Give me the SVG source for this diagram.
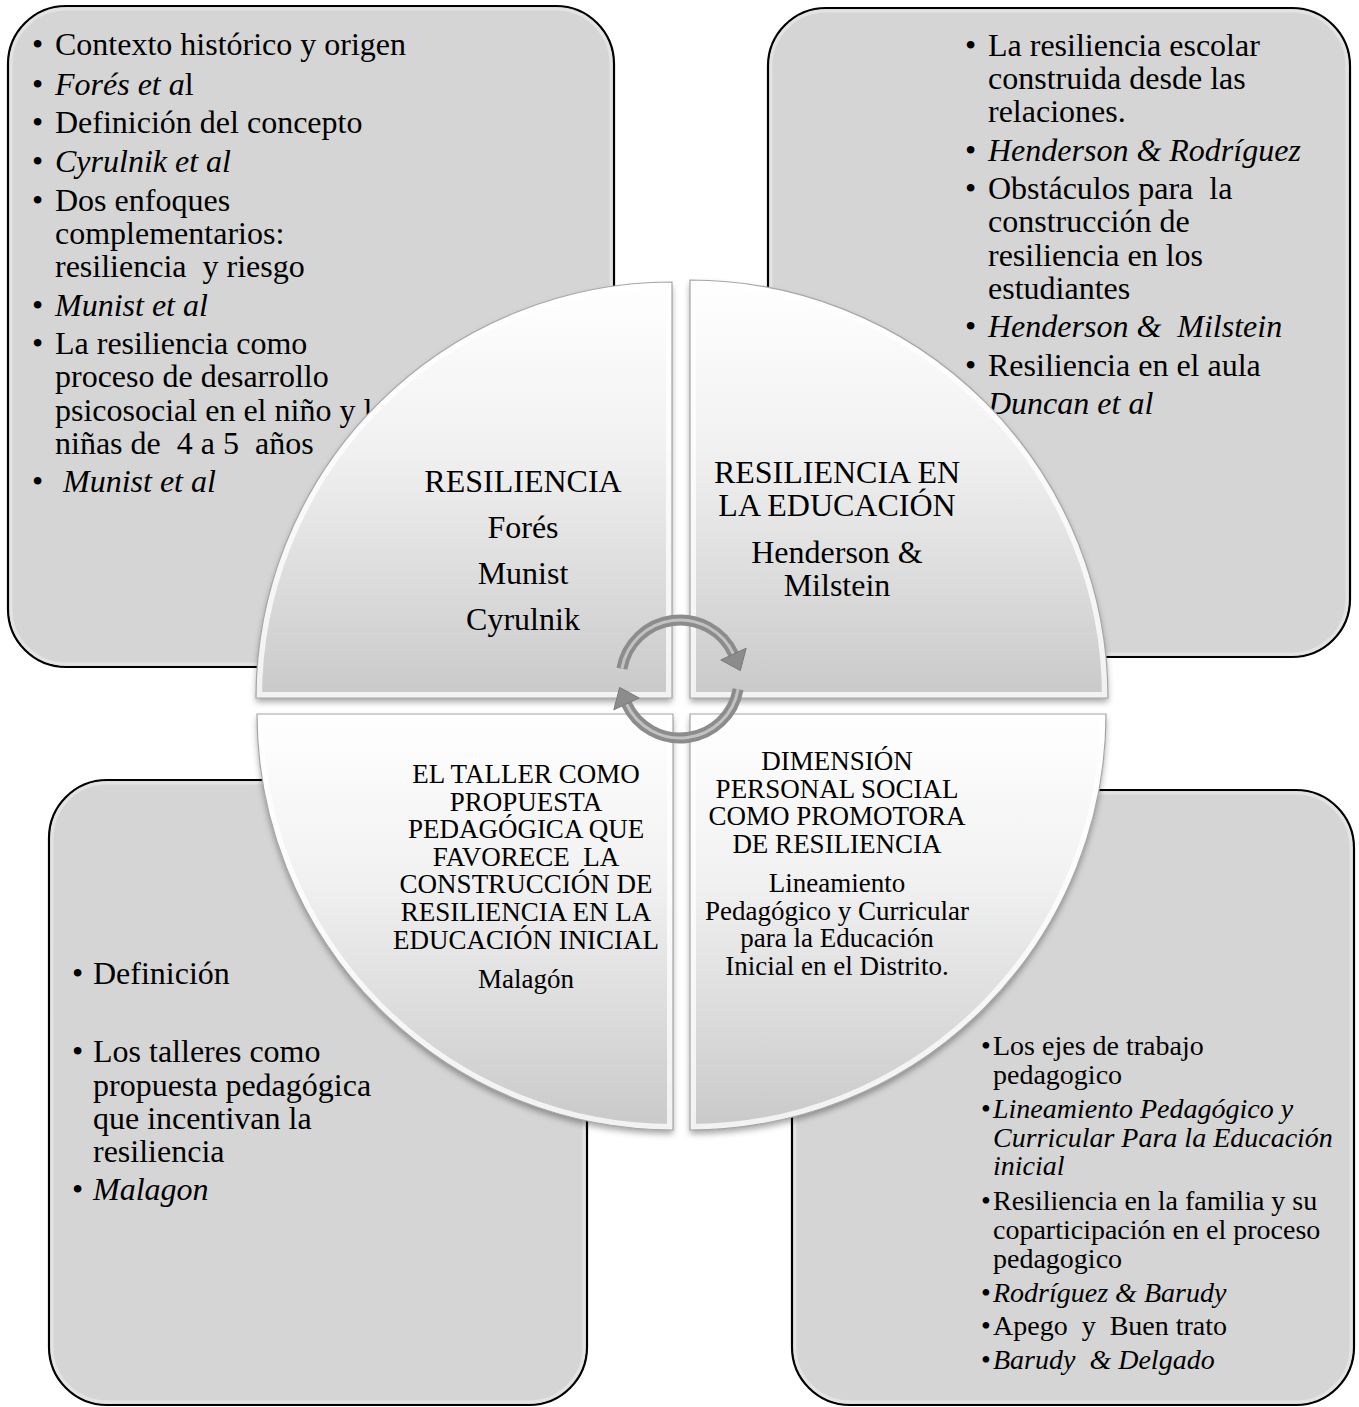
<svg xmlns="http://www.w3.org/2000/svg" width="1359" height="1407" viewBox="0 0 1359 1407">
<style>
text { font-family: "Liberation Serif", "Times New Roman", serif; fill: #000; white-space: pre; }
.b32 { font-size: 32px; }
.b28 { font-size: 28px; }
.q32 { font-size: 32px; text-anchor: middle; }
.q27 { font-size: 27px; text-anchor: middle; }
.it { font-style: italic; }
.box { fill: #d5d5d5; stroke: #000; stroke-width: 2.2; }
.boxhi { fill: none; stroke: #e3e3e3; stroke-width: 3; }
.quad { fill: url(#qg); filter: url(#sh); }
.quadhi { fill: none; stroke: #ffffff; stroke-width: 12; opacity: 0.75; }
.quadln { fill: none; stroke: #a6a6a6; stroke-width: 1.2; }
.arr { fill: none; stroke: #8c8c8c; stroke-width: 11; }
.arrin { fill: none; stroke: #c2c2c2; stroke-width: 3; }
.head { fill: #8c8c8c; stroke: #7a7a7a; stroke-width: 1; }
</style>
<defs>
<linearGradient id="qg" x1="0" y1="0" x2="0" y2="1">
<stop offset="0" stop-color="#ffffff"/>
<stop offset="0.4" stop-color="#f1f1f1"/>
<stop offset="1" stop-color="#c9c9c9"/>
</linearGradient>
<filter id="sh" x="-10%" y="-10%" width="120%" height="125%">
<feDropShadow dx="0" dy="4" stdDeviation="3" flood-color="#000" flood-opacity="0.35"/>
</filter>
<path id="pTL" d="M672,698 L256,698 A416 416 0 0 1 672,282 Z"/>
<path id="pTR" d="M690,698 L690,280 A418 418 0 0 1 1108,698 Z"/>
<path id="pBR" d="M690,714 L1106,714 A416 416 0 0 1 690,1130 Z"/>
<path id="pBL" d="M673,714 L673,1130 A416 416 0 0 1 257,714 Z"/>
<clipPath id="cTL"><use href="#pTL"/></clipPath>
<clipPath id="cTR"><use href="#pTR"/></clipPath>
<clipPath id="cBR"><use href="#pBR"/></clipPath>
<clipPath id="cBL"><use href="#pBL"/></clipPath>
</defs>

<g id="box-top-left">
<rect class="box" x="8" y="6" width="606" height="661" rx="58"/>
<rect class="boxhi" x="11" y="9" width="600" height="655" rx="55"/>
<text class="b32" y="55"><tspan x="32">•</tspan><tspan x="55">Contexto histórico y origen</tspan></text>
<text class="b32" y="95"><tspan x="32">•</tspan><tspan x="55" class="it">Forés et a</tspan><tspan>l</tspan></text>
<text class="b32" y="133"><tspan x="32">•</tspan><tspan x="55">Definición del concepto</tspan></text>
<text class="b32" y="172"><tspan x="32">•</tspan><tspan x="55" class="it">Cyrulnik et al</tspan></text>
<text class="b32" y="211"><tspan x="32">•</tspan><tspan x="55">Dos enfoques</tspan></text>
<text class="b32" x="55" y="244">complementarios:</text>
<text class="b32" x="55" y="277">resiliencia  y riesgo</text>
<text class="b32" y="316"><tspan x="32">•</tspan><tspan x="55" class="it">Munist et al</tspan></text>
<text class="b32" y="354"><tspan x="32">•</tspan><tspan x="55">La resiliencia como</tspan></text>
<text class="b32" x="55" y="387">proceso de desarrollo</text>
<text class="b32" x="55" y="421">psicosocial en el niño y las</text>
<text class="b32" x="55" y="454">niñas de  4 a 5  años</text>
<text class="b32" y="492"><tspan x="32">•</tspan><tspan x="63" class="it">Munist et al</tspan></text>
</g>

<g id="box-top-right">
<rect class="box" x="768" y="8" width="582" height="649" rx="58"/>
<rect class="boxhi" x="771" y="11" width="576" height="643" rx="55"/>
<text class="b32" y="56"><tspan x="965">•</tspan><tspan x="988">La resiliencia escolar</tspan></text>
<text class="b32" x="988" y="89">construida desde las</text>
<text class="b32" x="988" y="122">relaciones.</text>
<text class="b32" y="161"><tspan x="965">•</tspan><tspan x="988" class="it">Henderson &amp; Rodríguez</tspan></text>
<text class="b32" y="199"><tspan x="965">•</tspan><tspan x="988">Obstáculos para  la</tspan></text>
<text class="b32" x="988" y="232">construcción de</text>
<text class="b32" x="988" y="266">resiliencia en los</text>
<text class="b32" x="988" y="299">estudiantes</text>
<text class="b32" y="337"><tspan x="965">•</tspan><tspan x="988" class="it">Henderson &amp;  Milstein</tspan></text>
<text class="b32" y="376"><tspan x="965">•</tspan><tspan x="988">Resiliencia en el aula</tspan></text>
<text class="b32 it" x="988" y="414">Duncan et al</text>
</g>

<g id="box-bottom-left">
<rect class="box" x="49" y="780" width="538" height="625" rx="58"/>
<rect class="boxhi" x="52" y="783" width="532" height="619" rx="55"/>
<text class="b32" y="984"><tspan x="72">•</tspan><tspan x="93">Definición</tspan></text>
<text class="b32" y="1062"><tspan x="72">•</tspan><tspan x="93">Los talleres como</tspan></text>
<text class="b32" x="93" y="1096">propuesta pedagógica</text>
<text class="b32" x="93" y="1129">que incentivan la</text>
<text class="b32" x="93" y="1162">resiliencia</text>
<text class="b32" y="1200"><tspan x="72">•</tspan><tspan x="93" class="it">Malagon</tspan></text>
</g>

<g id="box-bottom-right">
<rect class="box" x="792" y="790" width="562" height="615" rx="58"/>
<rect class="boxhi" x="795" y="793" width="556" height="609" rx="55"/>
<text class="b28" y="1055"><tspan x="981">•</tspan><tspan x="993">Los ejes de trabajo</tspan></text>
<text class="b28" x="993" y="1084">pedagogico</text>
<text class="b28" y="1118"><tspan x="981">•</tspan><tspan x="993" class="it">Lineamiento Pedagógico y</tspan></text>
<text class="b28 it" x="993" y="1147">Curricular Para la Educación</text>
<text class="b28 it" x="993" y="1175">inicial</text>
<text class="b28" y="1210"><tspan x="981">•</tspan><tspan x="993">Resiliencia en la familia y su</tspan></text>
<text class="b28" x="993" y="1239">coparticipación en el proceso</text>
<text class="b28" x="993" y="1268">pedagogico</text>
<text class="b28" y="1302"><tspan x="981">•</tspan><tspan x="993" class="it">Rodríguez &amp; Barudy</tspan></text>
<text class="b28" y="1335"><tspan x="981">•</tspan><tspan x="993">Apego  y  Buen trato</tspan></text>
<text class="b28" y="1369"><tspan x="981">•</tspan><tspan x="993" class="it">Barudy  &amp; Delgado</tspan></text>
</g>

<g id="quadrant-resiliencia">
<use href="#pTL" class="quad"/>
<use href="#pTL" class="quadhi" clip-path="url(#cTL)"/>
<use href="#pTL" class="quadln"/>
<text class="q32" x="523" y="492">RESILIENCIA</text>
<text class="q32" x="523" y="538">Forés</text>
<text class="q32" x="523" y="584">Munist</text>
<text class="q32" x="523" y="630">Cyrulnik</text>
</g>

<g id="quadrant-educacion">
<use href="#pTR" class="quad"/>
<use href="#pTR" class="quadhi" clip-path="url(#cTR)"/>
<use href="#pTR" class="quadln"/>
<text class="q32" x="837" y="483">RESILIENCIA EN</text>
<text class="q32" x="837" y="516">LA EDUCACIÓN</text>
<text class="q32" x="837" y="563">Henderson &amp;</text>
<text class="q32" x="837" y="596">Milstein</text>
</g>

<g id="quadrant-dimension">
<use href="#pBR" class="quad"/>
<use href="#pBR" class="quadhi" clip-path="url(#cBR)"/>
<use href="#pBR" class="quadln"/>
<text class="q27" x="837" y="770">DIMENSIÓN</text>
<text class="q27" x="837" y="798">PERSONAL SOCIAL</text>
<text class="q27" x="837" y="825">COMO PROMOTORA</text>
<text class="q27" x="837" y="853">DE RESILIENCIA</text>
<text class="q27" x="837" y="892">Lineamiento</text>
<text class="q27" x="837" y="920">Pedagógico y Curricular</text>
<text class="q27" x="837" y="947">para la Educación</text>
<text class="q27" x="837" y="975">Inicial en el Distrito.</text>
</g>

<g id="quadrant-taller">
<use href="#pBL" class="quad"/>
<use href="#pBL" class="quadhi" clip-path="url(#cBL)"/>
<use href="#pBL" class="quadln"/>
<text class="q27" x="526" y="783">EL TALLER COMO</text>
<text class="q27" x="526" y="811">PROPUESTA</text>
<text class="q27" x="526" y="838">PEDAGÓGICA QUE</text>
<text class="q27" x="526" y="866">FAVORECE  LA</text>
<text class="q27" x="526" y="893">CONSTRUCCIÓN DE</text>
<text class="q27" x="526" y="921">RESILIENCIA EN LA</text>
<text class="q27" x="526" y="949">EDUCACIÓN INICIAL</text>
<text class="q27" x="526" y="988">Malagón</text>
</g>

<g id="connectors">
<path class="arr" d="M621.9,668.8 A59 59 0 0 1 733.5,654.1"/>
<path class="arrin" d="M621.9,668.8 A59 59 0 0 1 733.5,654.1"/>
<polygon class="head" points="746.2,648.2 720.8,660.0 740.3,670.6"/>
<path class="arr" d="M738.1,689.2 A59 59 0 0 1 626.5,703.9"/>
<path class="arrin" d="M738.1,689.2 A59 59 0 0 1 626.5,703.9"/>
<polygon class="head" points="613.8,709.8 639.2,698.0 619.7,687.4"/>
</g>
</svg>
